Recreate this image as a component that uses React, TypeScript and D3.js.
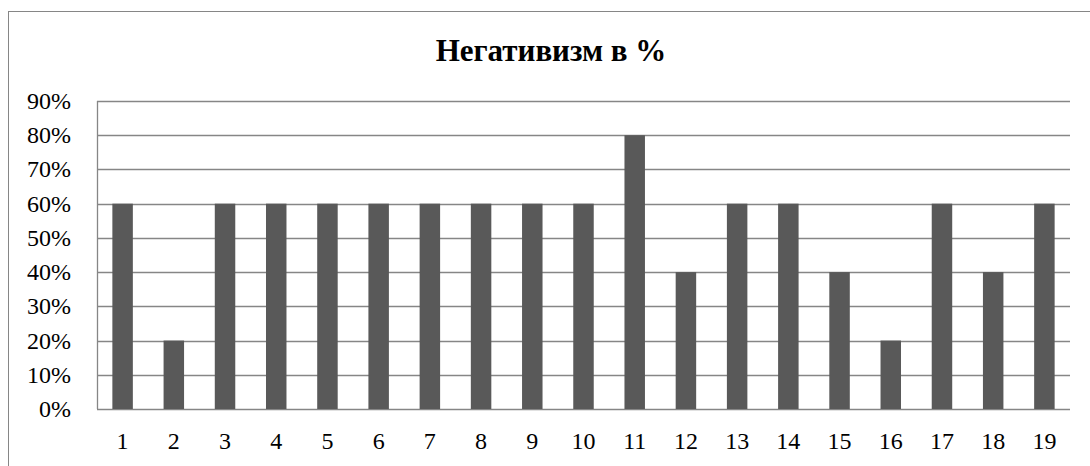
import React from "react";
import * as d3 from "d3";

const categories = ["1","2","3","4","5","6","7","8","9","10","11","12","13","14","15","16","17","18","19"];
const values = [60,20,60,60,60,60,60,60,60,60,80,40,60,60,40,20,60,40,60];
const yTicks = [0,10,20,30,40,50,60,70,80,90];
const title = "Негативизм в %";

export default function App() {
  const W = 1090, H = 466;
  const left = 97, right = 1070, top = 101, bottom = 409;
  const x = d3.scaleBand<string>().domain(categories).range([left, right]).paddingInner(0.6).paddingOuter(0.3);
  const y = d3.scaleLinear().domain([0, 90]).range([bottom, top]);
  const font = "'Liberation Serif', 'Times New Roman', serif";
  return (
    <svg width={W} height={H} style={{ position: "absolute", left: 0, top: 0 }}>
      <rect x={0} y={0} width={W} height={H} fill="#fff" />
      <rect x={8.5} y={11.5} width={1100} height={480} fill="none" stroke="#868686" strokeWidth={1} />
      <text x={551} y={61} textAnchor="middle" fontFamily={font} fontWeight="bold" fontSize={31}>{title}</text>
      {yTicks.map(t => (
        <line key={"g" + t} x1={left} x2={right} y1={Math.round(y(t)) + 0.5} y2={Math.round(y(t)) + 0.5} stroke="#868686" strokeWidth={1.3} />
      ))}
      <line x1={left + 0.5} x2={left + 0.5} y1={top} y2={bottom} stroke="#868686" strokeWidth={1.3} />
      {values.map((v, i) => (
        <rect key={"b" + i} x={x(categories[i])!} y={y(v)} width={x.bandwidth()} height={bottom - y(v)} fill="#595959" />
      ))}
      {yTicks.map(t => (
        <text key={"t" + t} x={71} y={y(t) + 8} textAnchor="end" fontFamily={font} fontSize={24}>{t + "%"}</text>
      ))}
      {categories.map(c => (
        <text key={"c" + c} x={x(c)! + x.bandwidth() / 2} y={449} textAnchor="middle" fontFamily={font} fontSize={24}>{c}</text>
      ))}
    </svg>
  );
}
